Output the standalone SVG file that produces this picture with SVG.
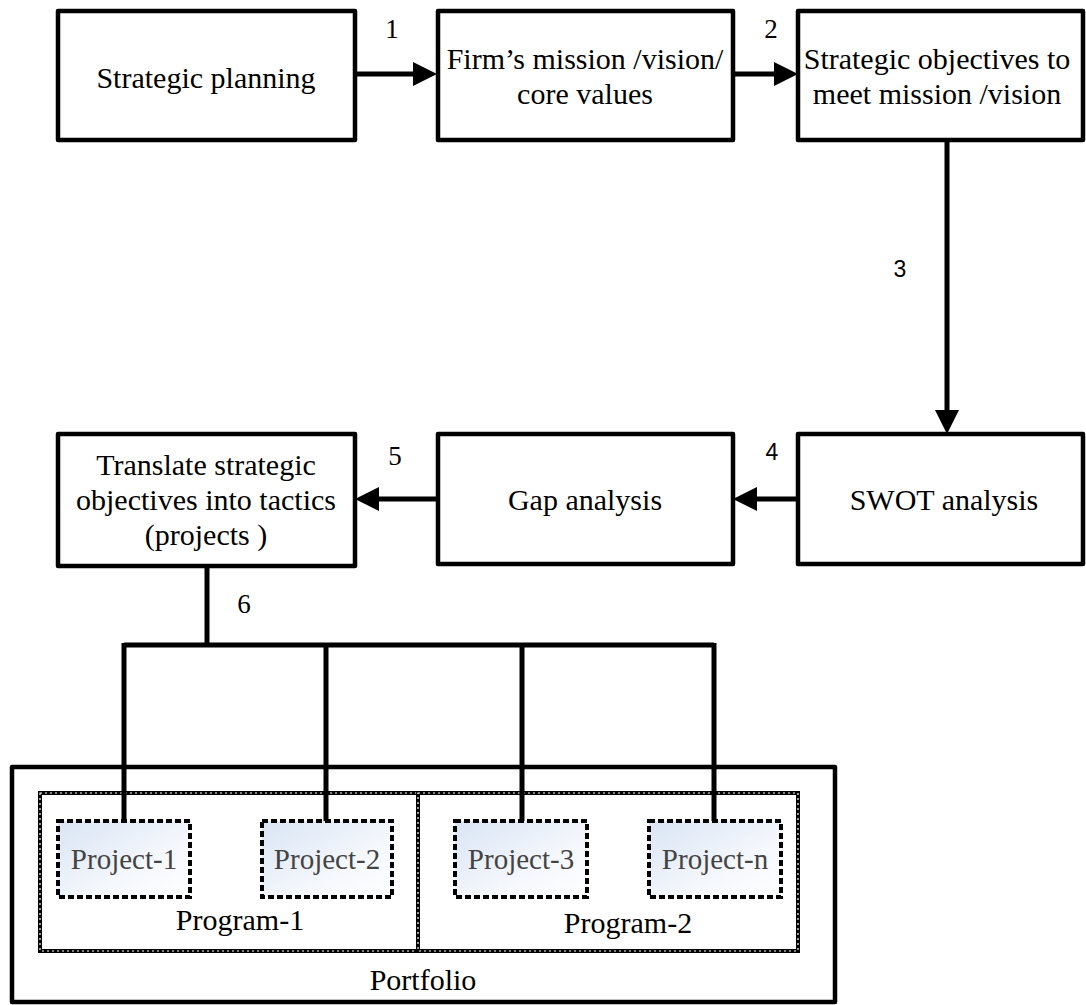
<svg xmlns="http://www.w3.org/2000/svg" width="1086" height="1005" viewBox="0 0 1086 1005">
  <style>
    .box { fill: #ffffff; stroke: #000000; stroke-width: 4.5; stroke-linejoin: round; }
    .lbl { font-family: "Liberation Serif", "DejaVu Serif", serif; font-size: 30px; fill: #000000; text-anchor: middle; }
    .num { font-family: "Liberation Serif", "DejaVu Serif", serif; font-size: 27px; fill: #000000; text-anchor: middle; }
    .nums { font-family: "Liberation Sans", "DejaVu Sans", sans-serif; font-size: 23px; fill: #000000; text-anchor: middle; }
    .wire { fill: none; stroke: #000000; stroke-width: 5; }
    .prog { fill: #ffffff; stroke: #000000; stroke-width: 4; }
    .progdots { fill: none; stroke: #ffffff; stroke-width: 1.2; stroke-dasharray: 2 3; }
    .proj { fill: url(#projFill); stroke: #000000; stroke-width: 4; stroke-dasharray: 6 3; }
    .projtxt { font-family: "Liberation Serif", "DejaVu Serif", serif; font-size: 29px; fill: #444444; text-anchor: middle; }
  </style>
  <defs>
    <marker id="arrow" markerUnits="userSpaceOnUse" markerWidth="24" markerHeight="24" refX="4" refY="12" orient="auto">
      <path d="M0,0 L24,12 L0,24 z" fill="#000000"/>
    </marker>
    <linearGradient id="projFill" x1="0" y1="0" x2="1" y2="1">
      <stop offset="0" stop-color="#d9e4f4"/>
      <stop offset="0.6" stop-color="#f4f7fc"/>
      <stop offset="1" stop-color="#ffffff"/>
    </linearGradient>
  </defs>

  <rect width="1086" height="1005" fill="#ffffff"/>

  <!-- Strategy chain -->
  <g id="strategic-planning">
    <rect class="box" x="58" y="11" width="297" height="129"/>
    <text class="lbl" x="206" y="88">Strategic planning</text>
  </g>
  <g id="mission-vision">
    <rect class="box" x="438" y="11" width="295" height="129"/>
    <text class="lbl" x="585" y="69">Firm’s mission /vision/</text>
    <text class="lbl" x="585" y="104">core values</text>
  </g>
  <g id="strategic-objectives">
    <rect class="box" x="798" y="11" width="285" height="129"/>
    <text class="lbl" x="937" y="69">Strategic objectives to</text>
    <text class="lbl" x="937" y="104">meet mission /vision</text>
  </g>
  <g id="swot-analysis">
    <rect class="box" x="798" y="434" width="285" height="130"/>
    <text class="lbl" x="944" y="510">SWOT analysis</text>
  </g>
  <g id="gap-analysis">
    <rect class="box" x="438" y="434" width="295" height="130"/>
    <text class="lbl" x="585" y="510">Gap analysis</text>
  </g>
  <g id="translate-objectives">
    <rect class="box" x="58" y="434" width="297" height="132"/>
    <text class="lbl" x="206" y="475">Translate strategic</text>
    <text class="lbl" x="206" y="510">objectives into tactics</text>
    <text class="lbl" x="206" y="545">(projects )</text>
  </g>

  <!-- Portfolio and programs -->
  <g id="portfolio">
    <rect class="box" x="12" y="767" width="823" height="235"/>
    <text class="lbl" x="423" y="990">Portfolio</text>
  </g>
  <g id="program-1">
    <rect class="prog" x="40" y="793" width="378" height="158"/>
    <rect class="progdots" x="40" y="793" width="378" height="158"/>
    <text class="lbl" x="240" y="930">Program-1</text>
  </g>
  <g id="program-2">
    <rect class="prog" x="418" y="793" width="380" height="158"/>
    <rect class="progdots" x="418" y="793" width="380" height="158"/>
    <text class="lbl" x="628" y="933">Program-2</text>
  </g>

  <!-- Connectors and step numbers -->
  <g id="connectors">
    <path class="wire" d="M355,74 H417" marker-end="url(#arrow)"/>
    <path class="wire" d="M733,74 H778" marker-end="url(#arrow)"/>
    <path class="wire" d="M947,140 V414" marker-end="url(#arrow)"/>
    <path class="wire" d="M798,499 H753" marker-end="url(#arrow)"/>
    <path class="wire" d="M438,499 H375" marker-end="url(#arrow)"/>
    <path class="wire" d="M207,566 V645"/>
    <path class="wire" d="M124,645 H714"/>
    <path class="wire" d="M124,643 V822"/>
    <path class="wire" d="M326,643 V822"/>
    <path class="wire" d="M522,643 V822"/>
    <path class="wire" d="M714,643 V822"/>
    <text class="num" x="392" y="38">1</text>
    <text class="num" x="771" y="38">2</text>
    <text class="nums" x="900" y="277">3</text>
    <text class="nums" x="772" y="460">4</text>
    <text class="num" x="395" y="465">5</text>
    <text class="num" x="244" y="613">6</text>
  </g>

  <!-- Projects -->
  <g id="project-1">
    <rect class="proj" x="58" y="821" width="132" height="76"/>
    <text class="projtxt" x="124" y="869">Project-1</text>
  </g>
  <g id="project-2">
    <rect class="proj" x="262" y="821" width="130" height="76"/>
    <text class="projtxt" x="327" y="869">Project-2</text>
  </g>
  <g id="project-3">
    <rect class="proj" x="455" y="821" width="132" height="76"/>
    <text class="projtxt" x="521" y="869">Project-3</text>
  </g>
  <g id="project-n">
    <rect class="proj" x="649" y="821" width="132" height="76"/>
    <text class="projtxt" x="715" y="869">Project-n</text>
  </g>
</svg>
